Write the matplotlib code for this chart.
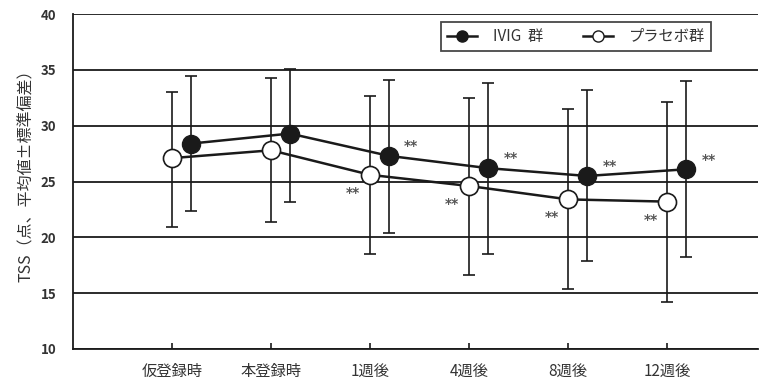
import matplotlib
matplotlib.use("Agg")
import matplotlib.pyplot as plt
from matplotlib.lines import Line2D

plt.rcParams['font.family'] = ['Noto Sans CJK JP', 'DejaVu Sans']

categories = ["仮登録時", "本登録時", "1週後", "4週後", "8週後", "12週後"]

ivig_mean = [28.4, 29.3, 27.3, 26.2, 25.5, 26.1]
ivig_upper = [34.5, 35.1, 34.1, 33.8, 33.2, 34.0]
ivig_lower = [22.4, 23.2, 20.4, 18.5, 17.9, 18.2]

placebo_mean = [27.1, 27.8, 25.6, 24.6, 23.4, 23.2]
placebo_upper = [33.0, 34.3, 32.7, 32.5, 31.5, 32.1]
placebo_lower = [20.9, 21.4, 18.5, 16.6, 15.4, 14.2]

# visits with a significant change from baseline (**)
ivig_sig = [False, False, True, True, True, True]
placebo_sig = [False, False, True, True, True, True]

yticks = [10, 15, 20, 25, 30, 35, 40]
ylabel = "TSS（点、平均値±標準偏差）"
legend_labels = ["IVIG  群", "プラセボ群"]

ink = "#1a1a1a"
text_col = "#333333"

fig = plt.figure(figsize=(7.6, 3.83), dpi=100)
ax = fig.add_axes([0.096, 0.089, 0.902, 0.874])

x = list(range(len(categories)))
offset = 0.19
x_ivig = [i + offset for i in x]
x_plac = list(x)

# error bars: mean with asymmetric extents from the stated bounds
ivig_err = [[m - lo for m, lo in zip(ivig_mean, ivig_lower)],
            [hi - m for m, hi in zip(ivig_mean, ivig_upper)]]
plac_err = [[m - lo for m, lo in zip(placebo_mean, placebo_lower)],
            [hi - m for m, hi in zip(placebo_mean, placebo_upper)]]

ax.errorbar(x_plac, placebo_mean, yerr=plac_err, fmt='none', ecolor=ink,
            elinewidth=1.2, capsize=4.5, capthick=1.2, zorder=3)
ax.errorbar(x_ivig, ivig_mean, yerr=ivig_err, fmt='none', ecolor=ink,
            elinewidth=1.2, capsize=4.5, capthick=1.2, zorder=3)

ax.plot(x_plac, placebo_mean, color=ink, lw=1.8, marker='o', markersize=13,
        markerfacecolor='white', markeredgecolor=ink, markeredgewidth=1.2, zorder=4)
ax.plot(x_ivig, ivig_mean, color=ink, lw=1.8, marker='o', markersize=13,
        markerfacecolor=ink, markeredgecolor=ink, zorder=5)

for xi, yi, s in zip(x_ivig, ivig_mean, ivig_sig):
    if s:
        ax.annotate("**", (xi, yi), xytext=(11, 7), textcoords='offset points',
                    ha='left', va='center', fontsize=10, color='#555555',
                    family='DejaVu Sans', fontweight='bold')
for xi, yi, s in zip(x_plac, placebo_mean, placebo_sig):
    if s:
        ax.annotate("**", (xi, yi), xytext=(-7, -13), textcoords='offset points',
                    ha='right', va='center', fontsize=10, color='#555555',
                    family='DejaVu Sans', fontweight='bold')

ax.set_xlim(-1.0, 5.92)
ax.set_ylim(10, 40)
ax.set_yticks(yticks)
ax.set_yticklabels([str(t) for t in yticks], fontsize=9.5, color=text_col,
                   fontweight='bold')
ax.tick_params(axis='y', length=0, pad=12)
ax.set_xticks(x)
ax.set_xticklabels(categories, fontsize=11, color=text_col)
ax.tick_params(axis='x', direction='in', length=4, width=1.2, color=ink, pad=10)

ax.yaxis.grid(True, color=ink, lw=1.3)
ax.set_axisbelow(True)
for side in ('top', 'right'):
    ax.spines[side].set_visible(False)
for side in ('left', 'bottom'):
    ax.spines[side].set_color(ink)
    ax.spines[side].set_linewidth(1.3)

ax.set_ylabel(ylabel, fontsize=11.5, color=text_col)
ax.yaxis.set_label_coords(-0.055, 0.53)

handles = [
    Line2D([0], [0], color=ink, lw=1.8, marker='o', markersize=8,
           markerfacecolor=ink, markeredgecolor=ink),
    Line2D([0], [0], color=ink, lw=1.8, marker='o', markersize=8,
           markerfacecolor='white', markeredgecolor=ink),
]
leg = ax.legend(handles, legend_labels, loc='upper right',
                bbox_to_anchor=(0.935, 0.985), ncol=2, fontsize=11,
                frameon=True, fancybox=False, edgecolor=ink, handlelength=2.0,
                columnspacing=2.6, borderpad=0.4, handletextpad=1.0,
                borderaxespad=0.2)
leg.get_frame().set_linewidth(1.3)
for t in leg.get_texts():
    t.set_color(text_col)

fig.savefig("out.png", dpi=100)
